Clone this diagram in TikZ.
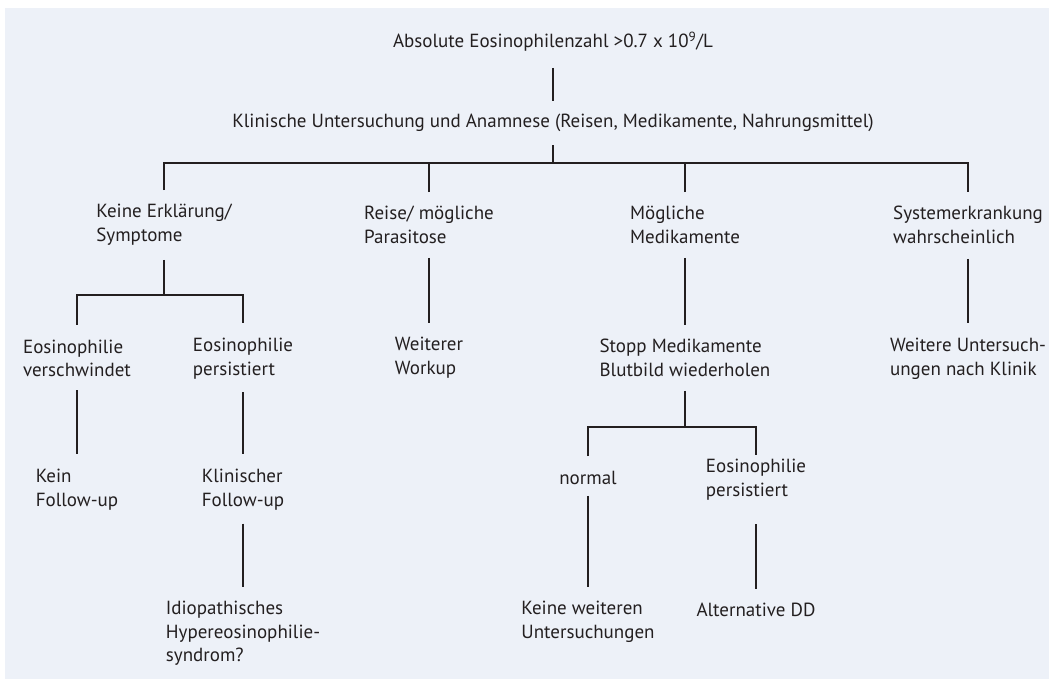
\documentclass[tikz,border=0pt]{standalone}
\usepackage{fontspec}
\setmainfont{PT Sans}
\usetikzlibrary{calc}
\definecolor{panelbg}{RGB}{237,241,248}
\definecolor{inkgray}{RGB}{35,31,32}

\begin{document}
\begin{tikzpicture}[x=1pt,y=-1pt,
    txt/.style={align=left, inner sep=0pt, text=inkgray, font=\fontsize{19}{23.7}\selectfont},
    link/.style={draw=inkgray, line width=1.1pt}]
  % panel
  \useasboundingbox (0,0) rectangle (1049,679);
  \fill[white] (0,0) rectangle (1049,679);
  \fill[panelbg] (5,8) rectangle (1049,679);
  % first two levels
  \node[txt] (top) at (553,42) {Absolute Eosinophilenzahl >0.7 x 10\textsuperscript{9}/L};
  \node[txt] (klin) at (553,123) {Klinische Untersuchung und Anamnese (Reisen, Medikamente, Nahrungsmittel)};
  % branches
  \node[txt] (keine) at (164,225) {Keine Erklärung/\\Symptome};
  \node[txt] (reise) at (429,225) {Reise/ mögliche\\Parasitose};
  \node[txt] (medi) at (685,225) {Mögliche\\Medikamente};
  \node[txt] (syst) at (968,225) {Systemerkrankung\\wahrscheinlich};
  % third row
  \node[txt] (versch) at (77,358.5) {Eosinophilie\\verschwindet};
  \node[txt] (pers) at (243,358.5) {Eosinophilie\\persistiert};
  \node[txt] (work) at (429,357.5) {Weiterer\\Workup};
  \node[txt] (stopp) at (685,358) {Stopp Medikamente\\Blutbild wiederholen};
  \node[txt] (unters) at (968,358.5) {Weitere Untersuch-\\ungen nach Klinik};
  % fourth row
  \node[txt] (kein) at (77,490) {Kein\\Follow-up};
  \node[txt] (klinfu) at (243,490) {Klinischer\\Follow-up};
  \node[txt] (normal) at (588,478) {normal};
  \node[txt] (perstwo) at (756,479.5) {Eosinophilie\\persistiert};
  % last row
  \node[txt] (hes) at (243,633.5) {Idiopathisches\\Hypereosinophilie-\\syndrom?};
  \node[txt] (weiter) at (588,621.5) {Keine weiteren\\Untersuchungen};
  \node[txt] (altdd) at (756,610) {Alternative DD};
  % bars
  \coordinate (bone) at (0,163);
  \coordinate (btwo) at (0,295);
  \coordinate (bthree) at (0,427);
  % connectors
  \draw[link] ($(top.south)+(0,16)$) -- ($(klin.north)+(0,-13)$);
  \draw[link] ($(klin.south)+(0,13)$) -- (klin.south |- bone);
  \draw[link] ($(keine.north)+(0,-14)$) -- (keine.north |- bone) -- (syst.north |- bone) -- ($(syst.north)+(0,-14)$);
  \foreach \n in {reise,medi}
    \draw[link] ($(\n.north)+(0,-14)$) -- (\n.north |- bone);
  \draw[link] ($(keine.south)+(0,14)$) -- (keine.south |- btwo);
  \draw[link] ($(versch.north)+(0,-15)$) -- (versch.north |- btwo) -- (pers.north |- btwo) -- ($(pers.north)+(0,-15)$);
  \draw[link] ($(reise.south)+(0,14)$) -- ($(work.north)+(0,-14)$);
  \draw[link] ($(medi.south)+(0,14)$) -- ($(stopp.north)+(0,-14)$);
  \draw[link] ($(syst.south)+(0,15)$) -- ($(unters.north)+(0,-15)$);
  \draw[link] ($(versch.south)+(0,13)$) -- ($(kein.north)+(0,-15)$);
  \draw[link] ($(pers.south)+(0,13)$) -- ($(klinfu.north)+(0,-15)$);
  \draw[link] ($(klinfu.south)+(0,13)$) -- ($(hes.north)+(0,-14)$);
  \draw[link] ($(stopp.south)+(0,14)$) -- (stopp.south |- bthree);
  \draw[link] ($(normal.north)+(0,-15)$) -- (normal.north |- bthree) -- (perstwo.north |- bthree) -- ($(perstwo.north)+(0,-4)$);
  \draw[link] ($(normal.south)+(0,11)$) -- ($(weiter.north)+(0,-14)$);
  \draw[link] ($(perstwo.south)+(0,24)$) -- ($(altdd.north)+(0,-14)$);
\end{tikzpicture}
\end{document}
